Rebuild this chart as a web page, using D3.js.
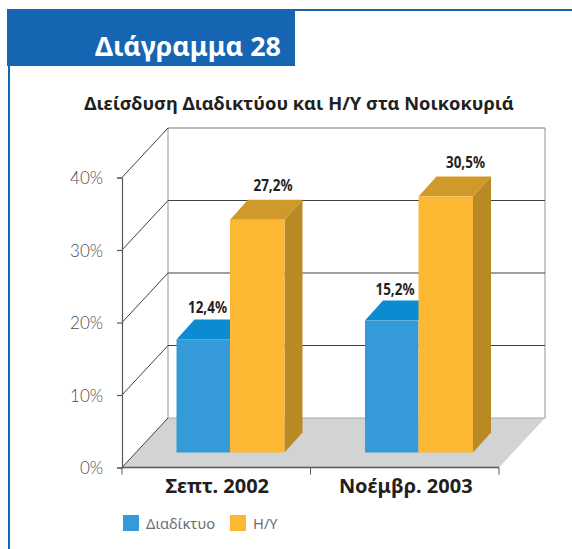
<!DOCTYPE html>
<html><head><meta charset="utf-8">
<script src="https://cdn.jsdelivr.net/npm/d3@7"></script>
<style>html,body{margin:0;padding:0;background:#fff}svg{display:block}text{font-family:"Noto Sans","Open Sans",sans-serif}</style>
</head><body><svg id="c" width="572" height="549"></svg>
<script>
const heading = "Διάγραμμα 28";
const chartTitle = "Διείσδυση Διαδικτύου και Η/Υ στα Νοικοκυριά";
const categories = ["Σεπτ. 2002", "Νοέμβρ. 2003"];
const seriesNames = ["Διαδίκτυο", "Η/Υ"];
const internet = [12.4, 15.2];
const computers = [27.2, 30.5];
const tickValues = [0, 10, 20, 30, 40];
// The reference's bars are not proportional to their printed labels:
// printed value -> height as read against the drawn axis.
const printedValues = [0, 12.4, 15.2, 27.2, 30.5];
const drawnHeights = [0, 15.6, 18.2, 32.1, 35.3];
const comma = v => String(v.toFixed(1)).replace(".", ",") + "%";

const W0 = 122, W1 = 499, Y0 = 467.5, Y40 = 177.5;
const DEPTH = {x: 46, y: -49.5};
const BAR_D = {x: 18, y: -20};
const BAR_BASE = 452.5;
const colors = {blue: "#359bd8", blueTop: "#0a8bd2", orange: "#fdb833", orangeTop: "#cf9a2a", orangeSide: "#b98a24", frame: "#1565b2"};

const svg = d3.select("#c");
const y = d3.scaleLinear().domain([0, 40]).range([Y0, Y40]);
const x0 = d3.scaleBand().domain(categories).range([W0, W1]);
const drawn = d3.scaleLinear().domain(printedValues).range(drawnHeights);
const barPx = v => y(0) - y(drawn(v));

// frame
svg.append("rect").attr("x", 8).attr("y", 65).attr("width", 2).attr("height", 484).attr("fill", colors.frame);
svg.append("rect").attr("x", 295).attr("y", 9).attr("width", 277).attr("height", 2).attr("fill", colors.frame);
svg.append("rect").attr("x", 7).attr("y", 9).attr("width", 288).attr("height", 57).attr("fill", colors.frame);
svg.append("text").attr("x", 95).attr("y", 55.5).attr("fill", "#fff").attr("font-size", 26.8).attr("font-weight", 700).text(heading);
svg.append("text").attr("x", 299).attr("y", 110).attr("text-anchor", "middle").attr("fill", "#231f20").attr("font-size", 18.3).attr("font-weight", 700).text(chartTitle);

// floor and walls
const poly = pts => pts.map(p => p.join(",")).join(" ");
svg.append("polygon").attr("points", poly([[W0, Y0], [W0 + DEPTH.x, Y0 + DEPTH.y], [W1 + DEPTH.x, Y0 + DEPTH.y], [W1, Y0]])).attr("fill", "#d1d3d4");
const g = svg.append("g");
g.append("line").attr("x1", W0 + DEPTH.x).attr("x2", W0 + DEPTH.x).attr("y1", y(40) + DEPTH.y).attr("y2", Y0 + DEPTH.y).attr("stroke", "#c6cacd").attr("stroke-width", 2);
g.append("line").attr("x1", W1 + DEPTH.x).attr("x2", W1 + DEPTH.x).attr("y1", y(40) + DEPTH.y).attr("y2", Y0 + DEPTH.y).attr("stroke", "#c6cacd").attr("stroke-width", 2);
g.selectAll(".grid").data(tickValues).join("line").attr("class", "grid")
  .attr("x1", W0 + DEPTH.x).attr("x2", W1 + DEPTH.x)
  .attr("y1", d => y(d) + DEPTH.y).attr("y2", d => y(d) + DEPTH.y)
  .attr("stroke", d => d === 40 ? "#77787b" : d === 0 ? "#a7a9ac" : "#414042").attr("stroke-width", 1.2);
g.selectAll(".diag").data(tickValues).join("line").attr("class", "diag")
  .attr("x1", W0).attr("x2", W0 + DEPTH.x)
  .attr("y1", d => y(d)).attr("y2", d => y(d) + DEPTH.y)
  .attr("stroke", "#414042").attr("stroke-width", 1);

// front axes
const axis = svg.append("g").attr("transform", `translate(${W0},0)`)
  .call(d3.axisLeft(y).tickValues(tickValues).tickSize(5).tickPadding(14).tickFormat(d => d + "%"));
axis.selectAll("path,line").attr("stroke", "#58595b").attr("stroke-width", 1.2);
axis.selectAll("text").style("font-family", "Lato, 'Noto Sans', sans-serif").attr("font-size", 17).attr("fill", "#4d4d4f").attr("font-weight", 300).attr("dy", "0.36em");
svg.append("line").attr("x1", W0).attr("x2", W1).attr("y1", Y0).attr("y2", Y0).attr("stroke", "#58595b").attr("stroke-width", 1.5);
svg.selectAll(".xtick").data([W0, x0(categories[1]), W1]).join("line").attr("class", "xtick")
  .attr("x1", d => d).attr("x2", d => d).attr("y1", Y0).attr("y2", Y0 + 7).attr("stroke", "#58595b").attr("stroke-width", 1);
svg.selectAll(".xlab").data(categories).join("text").attr("class", "xlab")
  .attr("x", d => x0(d) + x0.bandwidth() / 2 + 1).attr("y", 493).attr("text-anchor", "middle")
  .attr("font-size", 20).attr("font-weight", 700).attr("fill", "#231f20").text(d => d);

// bars
const barW = {i: 53.5, c: 54.5};
const bars = categories.map((c, i) => ({c, i}));
const bx = d => x0(d.c) + 54.5;
const bg = svg.append("g");
bg.selectAll(".bi-top").data(bars).join("polygon").attr("fill", colors.blueTop)
  .attr("points", d => { const l = bx(d), r = l + barW.i, t = BAR_BASE - barPx(internet[d.i]); return poly([[l, t], [l + BAR_D.x, t + BAR_D.y], [r + BAR_D.x, t + BAR_D.y], [r, t]]); });
bg.selectAll(".bi").data(bars).join("rect").attr("fill", colors.blue)
  .attr("x", bx).attr("width", barW.i).attr("y", d => BAR_BASE - barPx(internet[d.i])).attr("height", d => barPx(internet[d.i]));
const cl = d => bx(d) + barW.i;
bg.selectAll(".bc-top").data(bars).join("polygon").attr("fill", colors.orangeTop)
  .attr("points", d => { const l = cl(d), r = l + barW.c, t = BAR_BASE - barPx(computers[d.i]); return poly([[l, t], [l + BAR_D.x, t + BAR_D.y], [r + BAR_D.x, t + BAR_D.y], [r, t]]); });
bg.selectAll(".bc-side").data(bars).join("polygon").attr("fill", colors.orangeSide)
  .attr("points", d => { const r = cl(d) + barW.c, t = BAR_BASE - barPx(computers[d.i]); return poly([[r, t], [r + BAR_D.x, t + BAR_D.y], [r + BAR_D.x, BAR_BASE + BAR_D.y], [r, BAR_BASE]]); });
bg.selectAll(".bc").data(bars).join("rect").attr("fill", colors.orange)
  .attr("x", cl).attr("width", barW.c).attr("y", d => BAR_BASE - barPx(computers[d.i])).attr("height", d => barPx(computers[d.i]));

// labels
const lab = svg.append("g").attr("font-size", 15.5).attr("font-weight", 700).attr("fill", "#231f20").attr("text-anchor", "middle").style("font-stretch", "condensed");
const labelText = (sel, arr, fx, dyv) => sel.data(bars).join("text").attr("x", fx).attr("y", d => BAR_BASE - barPx(arr[d.i]) - dyv)
  .attr("textLength", 39).attr("lengthAdjust", "spacingAndGlyphs").text(d => comma(arr[d.i]));
labelText(lab.selectAll(".li"), internet, d => bx(d) + 31 - d.i, 26);
labelText(lab.selectAll(".lc"), computers, d => cl(d) + 43 + 4 * d.i, 29);

// legend
const legendX = d3.scalePoint().domain(seriesNames).range([123, 230]);
const lg = svg.append("g");
lg.selectAll("rect").data(seriesNames).join("rect").attr("x", d => legendX(d)).attr("y", 515).attr("width", 16).attr("height", 16).attr("fill", (d, i) => i ? colors.orange : colors.blue);
lg.selectAll("text").data(seriesNames).join("text").attr("x", d => legendX(d) + 23).attr("y", 529).attr("font-size", 14.7).attr("fill", "#6d6e71").text(d => d);
</script></body></html>
